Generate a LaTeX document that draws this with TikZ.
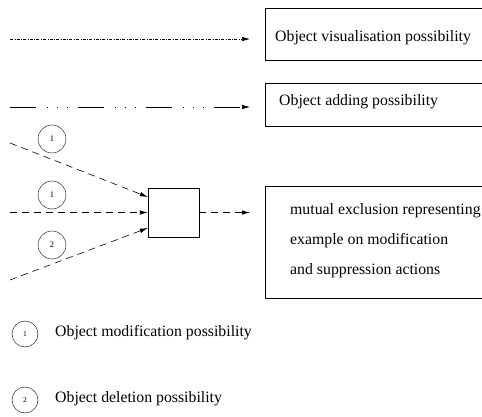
\documentclass[tikz,border=0pt]{standalone}
\usepackage{fontspec}
\setmainfont{Liberation Serif}
\usetikzlibrary{arrows.meta,calc,positioning,shapes}
\tikzset{%
	textbox/.style = {draw, rectangle, minimum width=217pt, anchor=west, align=left, inner sep=0pt},
	numcirc/.style = {draw, circle, minimum size=28pt, inner sep=0pt, font=\fontsize{8.5}{9}\selectfont},
	legcirc/.style = {draw, circle, minimum size=26pt, inner sep=0pt, font=\fontsize{7.5}{8}\selectfont},
	joinbox/.style = {draw, rectangle, minimum width=51pt, minimum height=49pt},
	arrow/.style   = {line width=0.6pt, -{Latex[length=8pt,width=4.5pt]}},
	label/.style   = {font=\fontsize{15.8}{18}\selectfont, anchor=west, inner sep=0pt},
}
\begin{document}
\begin{tikzpicture}[x=1pt,y=-1pt]
	\useasboundingbox (0,0) rectangle (482,417);
	% boxes on the right
	\node[textbox, minimum height=52pt] (vis) at (265,34) {};
	\node[label] at (275,38) {Object visualisation possibility};
	\node[textbox, minimum height=43pt] (add) at (265,104.5) {};
	\node[label] at (279,102) {Object adding possibility};
	\node[textbox, minimum height=112pt] (mutex) at (265,242) {};
	\node[label] (m1) at (290,211) {mutual exclusion representing};
	\node[label] (m2) at (290,241) {example on modification};
	\node[label] (m3) at (290,271) {and suppression actions};
	% the little square
	\node[joinbox] (join) at (173.5,212.5) {};
	% free ends
	\coordinate (visA) at (10,39);
	\coordinate (visB) at (250,39);
	\coordinate (addA) at (10,107);
	\coordinate (addB) at (250,107);
	\coordinate (inA) at (10,143);
	\coordinate (inB) at (10,212.5);
	\coordinate (inC) at (10,280);
	\coordinate (outB) at (250,212.5);
	\draw[arrow, dash pattern=on 3pt off 1.5pt on 0.6pt off 1.5pt] (visA) -- (visB);
	\draw[arrow, dash pattern=on 26pt off 11pt on 1pt off 9pt on 1pt off 9pt on 1pt off 10pt] (addA) -- (addB);
	\draw[arrow, dash pattern=on 7pt off 5pt] (inA) -- (join.west |- 0,197);
	\draw[arrow, dash pattern=on 7pt off 5pt] (inB) -- (join.west);
	\draw[arrow, dash pattern=on 7pt off 5pt] (inC) -- (join.west |- 0,228);
	\draw[arrow, dash pattern=on 7pt off 5pt] (join.east) -- (outB);
	% numbered circles
	\node[numcirc] (c1) at (52,139) {1};
	\node[numcirc] (c2) at (52,195) {1};
	\node[numcirc] (c3) at (52,245) {2};
	% legend
	\node[legcirc] (l1) at (25,334) {1};
	\node[label] at (55,333) {Object modification possibility};
	\node[legcirc] (l2) at (25,400) {2};
	\node[label] at (55,399) {Object deletion possibility};
\end{tikzpicture}
\end{document}
